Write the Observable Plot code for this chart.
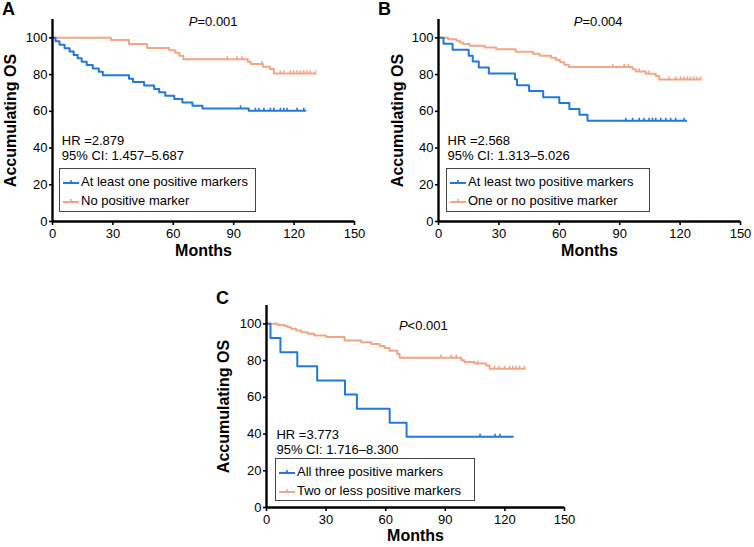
<!DOCTYPE html>
<html>
<head>
<meta charset="utf-8">
<script src="https://cdn.jsdelivr.net/npm/d3@7"></script>
<script src="https://cdn.jsdelivr.net/npm/@observablehq/plot@0.6"></script>
<style>
  html, body { margin: 0; padding: 0; background: #fff; }
  #root { position: relative; width: 754px; height: 547px; background: #fff; font-family: "Liberation Sans", Arial, sans-serif; color: #000; overflow: hidden; }
  .panel { position: absolute; }
  .letter { position: absolute; font-weight: bold; font-size: 18px; line-height: 18px; }
  .legend { position: absolute; border: 1px solid #444; box-sizing: border-box; background: #fff; }
  .legend .row { position: absolute; left: 0; height: 16px; font-size: 13px; line-height: 16px; white-space: nowrap; }
  .legend svg { position: absolute; left: 3px; top: 3px; }
  .legend span { position: absolute; left: 21px; top: 0; }
</style>
</head>
<body>
<div id="root"></div>
<script>
// ---------- data ----------
const xTicks = [0, 30, 60, 90, 120, 150];
const yTicks = [0, 20, 40, 60, 80, 100];
const blue = "#2179dd";
const orange = "#f3a685";

// Panel A
const aLabels = ["At least one positive markers", "No positive marker"];
const aStats = ["HR =2.879", "95% CI: 1.457–5.687"];
const aP = "=0.001";
const aBlueTime = [0, 1.5, 3.5, 6, 8.5, 10.5, 12.5, 14.5, 17, 20, 23, 25, 38, 40, 45.5, 50.5, 53, 56, 60.5, 64.5, 69.5, 74.5, 97.5];
const aBlueSurv = [100, 98.1, 96.3, 94.4, 92.6, 90.7, 88.9, 87, 85.2, 83.3, 81.5, 79.6, 77.8, 75.9, 74.1, 72.2, 70.4, 68.5, 66.7, 64.8, 63, 61.6, 60.3];
const aBlueEnd = 125.6;
const aBlueCensor = [93.4, 100.8, 102.5, 105, 108.2, 109.9, 113.2, 114.9, 116.5, 121.5, 124.8];
const aOrangeTime = [0, 29, 38, 47, 58, 61, 63, 65, 97, 98.5, 104.5, 108, 110];
const aOrangeSurv = [100, 98.9, 96.6, 94.5, 93.2, 91.9, 90.3, 88.3, 87, 85.7, 84.3, 83, 80.6];
const aOrangeEnd = 130.6;
const aOrangeCensor = [86.8, 91.7, 94.2, 104.1, 113.2, 114.9, 118.2, 119.8, 121.5, 123.1, 124.8, 126.4, 128.1, 130.6];

// Panel B
const bLabels = ["At least two positive markers", "One or no positive marker"];
const bStats = ["HR =2.568", "95% CI: 1.313–5.026"];
const bP = "=0.004";
const bBlueTime = [0, 2.5, 7, 15, 17, 20, 25, 38, 39, 45, 52, 60, 65, 70, 74];
const bBlueSurv = [100, 96.8, 93.5, 90.3, 87.1, 83.9, 80.6, 77.4, 74.2, 71, 67.7, 64.5, 61.3, 58.1, 54.8];
const bBlueEnd = 123;
const bBlueCensor = [93, 96.4, 99.7, 102.1, 104.6, 106.3, 107.9, 110.4, 112.9, 115.3, 117.8, 122];
const bOrangeTime = [0, 4.8, 8.9, 10.6, 12.2, 15.5, 22.9, 28.7, 38.3, 46.9, 50.2, 55.9, 58.4, 60.4, 62.5, 64.7, 96.4, 98, 103, 107.9, 109.6];
const bOrangeSurv = [100, 99.2, 98.4, 97.5, 96.6, 95.7, 94.7, 93.8, 92.5, 91.3, 90.3, 89.2, 87.9, 86.7, 85.4, 84.1, 82.9, 81.7, 80.5, 79.3, 77.3];
const bOrangeEnd = 130.2;
const bOrangeCensor = [86.5, 92.2, 94.4, 99.7, 104.6, 114.5, 117.8, 120.3, 121.9, 123.6, 125.2, 126.9, 128.5, 130.2];

// Panel C
const cLabels = ["All three positive markers", "Two or less positive markers"];
const cStats = ["HR =3.773", "95% CI: 1.716–8.300"];
const cP = "<0.001";
const cBlueTime = [0, 2, 7, 15.5, 25.5, 39.5, 45.5, 62, 70.5];
const cBlueSurv = [100, 92.3, 84.6, 76.9, 69.2, 61.5, 53.8, 46.2, 38.5];
const cBlueEnd = 124;
const cBlueCensor = [107.5, 115, 117.5];
const cOrangeTime = [0, 5.7, 9, 10.7, 12.4, 14.9, 17.5, 20.8, 24.2, 30, 39.3, 47.7, 52.7, 56.9, 59.4, 61.9, 65.8, 67, 98, 99.6, 104.7, 110.6, 112.3];
const cOrangeSurv = [100, 99.4, 98.9, 98.1, 97.3, 96.4, 95.5, 94.6, 93.7, 92.8, 91.0, 90.0, 89.1, 87.9, 86.9, 85.4, 83.6, 81.6, 80.2, 79.2, 78.4, 77.3, 75.5];
const cOrangeEnd = 130;
const cOrangeCensor = [87.9, 93, 95.5, 106.4, 114.8, 117, 119.8, 122.4, 124, 125.7, 127.4, 129.9];

// ---------- helpers ----------
function stepPoints(times, surv, end) {
  const pts = times.map((t, i) => ({t, s: surv[i]}));
  pts.push({t: end, s: surv[surv.length - 1]});
  return pts;
}
function censorPoints(times, surv, cens) {
  return cens.map(c => {
    let s = surv[0];
    for (let i = 0; i < times.length; i++) if (times[i] <= c) s = surv[i];
    return {t: c, s};
  });
}

function panel(o) {
  const series = [
    {time: o.blueTime, surv: o.blueSurv, end: o.blueEnd, cens: o.blueCensor, color: blue},
    {time: o.orangeTime, surv: o.orangeSurv, end: o.orangeEnd, cens: o.orangeCensor, color: orange}
  ];
  const marks = [];
  for (const s of series.slice().reverse()) {
    marks.push(Plot.line(stepPoints(s.time, s.surv, s.end), {x: "t", y: "s", curve: "step-after", stroke: s.color, strokeWidth: 2}));
    marks.push(Plot.link(censorPoints(s.time, s.surv, s.cens), {x1: "t", x2: "t", y1: "s", y2: d => d.s + 1.7, stroke: s.color, strokeWidth: 1.6}));
  }
  marks.push(
    Plot.axisX({ticks: xTicks, tickSize: 4, tickPadding: 3, fontSize: 13, label: null, strokeWidth: 1.6}),
    Plot.axisY({ticks: yTicks, tickSize: 3, tickPadding: 2, fontSize: 13, label: null, strokeWidth: 1.6}),
    Plot.ruleX([0], {stroke: "#000", strokeWidth: 2.4}),
    Plot.ruleY([0], {stroke: "#000", strokeWidth: 2.4}),
    Plot.text(["Accumulating OS"], {frameAnchor: "left", textAnchor: "middle", rotate: -90, dx: o.yLabelDx, fontWeight: "bold", fontSize: 16, fill: "#000"}),
    Plot.text(["Months"], {frameAnchor: "bottom", textAnchor: "middle", dy: o.xLabelDy, fontWeight: "bold", fontSize: 16, fill: "#000"}),
    Plot.text(["P"], {x: () => o.pX, y: () => o.pY, textAnchor: "end", fontStyle: "italic", fontSize: 13, fill: "#000"}),
    Plot.text([o.p], {x: () => o.pX, y: () => o.pY, textAnchor: "start", fontSize: 13, fill: "#000"}),
    Plot.text(o.stats, {x: () => o.statsX, y: (d, i) => o.statsY[i], text: d => d, textAnchor: "start", fontSize: 13, fill: "#000"})
  );
  return Plot.plot({
    width: o.width, height: o.height,
    marginLeft: o.mL, marginRight: o.mR, marginTop: o.mT, marginBottom: o.mB,
    x: {domain: [0, 150]},
    y: {domain: [0, 110]},
    style: {fontFamily: '"Liberation Sans", Arial, sans-serif', fontSize: "13px", color: "#000", background: "transparent", overflow: "visible"},
    marks
  });
}

function legend(root, labels, left, top, w, h) {
  const box = document.createElement("div");
  box.className = "legend";
  Object.assign(box.style, {left: left + "px", top: top + "px", width: w + "px", height: h + "px"});
  const colors = [blue, orange];
  labels.forEach((lab, i) => {
    const row = document.createElement("div");
    row.className = "row";
    row.style.top = (i === 0 ? 5 : 24) + "px";
    row.innerHTML = `<svg width="16" height="10"><line x1="0" x2="16" y1="6" y2="6" stroke="${colors[i]}" stroke-width="2"/><line x1="8" x2="8" y1="6" y2="3" stroke="${colors[i]}" stroke-width="1.6"/></svg><span>${lab}</span>`;
    box.appendChild(row);
  });
  root.appendChild(box);
}

function place(root, el, left, top) {
  const d = document.createElement("div");
  d.className = "panel";
  d.style.left = left + "px";
  d.style.top = top + "px";
  d.appendChild(el);
  root.appendChild(d);
}
function letter(root, txt, left, top) {
  const d = document.createElement("div");
  d.className = "letter";
  d.textContent = txt;
  d.style.left = left + "px";
  d.style.top = top + "px";
  root.appendChild(d);
}

const root = document.getElementById("root");

place(root, panel({
  width: 377, height: 270, mL: 52, mR: 23, mT: 19, mB: 49,
  blueTime: aBlueTime, blueSurv: aBlueSurv, blueEnd: aBlueEnd, blueCensor: aBlueCensor,
  orangeTime: aOrangeTime, orangeSurv: aOrangeSurv, orangeEnd: aOrangeEnd, orangeCensor: aOrangeCensor,
  yLabelDx: -42, xLabelDy: 34, p: aP, pX: 72, pY: 108.7, stats: aStats, statsX: 4.6, statsY: [44, 35.7]
}), 0, 0);

place(root, panel({
  width: 377, height: 270, mL: 61, mR: 14, mT: 19, mB: 49,
  blueTime: bBlueTime, blueSurv: bBlueSurv, blueEnd: bBlueEnd, blueCensor: bBlueCensor,
  orangeTime: bOrangeTime, orangeSurv: bOrangeSurv, orangeEnd: bOrangeEnd, orangeCensor: bOrangeCensor,
  yLabelDx: -41, xLabelDy: 34, p: bP, pX: 71.5, pY: 108.7, stats: bStats, statsX: 4.5, statsY: [44, 35.5]
}), 377, 0);

place(root, panel({
  width: 400, height: 277, mL: 86, mR: 16, mT: 35, mB: 40,
  blueTime: cBlueTime, blueSurv: cBlueSurv, blueEnd: cBlueEnd, blueCensor: cBlueCensor,
  orangeTime: cOrangeTime, orangeSurv: cOrangeSurv, orangeEnd: cOrangeEnd, orangeCensor: cOrangeCensor,
  yLabelDx: -43, xLabelDy: 33, p: cP, pX: 71, pY: 99.1, stats: cStats, statsX: 5, statsY: [39.8, 31.6]
}), 180, 270);

legend(root, aLabels, 59, 168, 197, 44);
legend(root, bLabels, 446, 168, 204, 44);
legend(root, cLabels, 275, 458, 200, 43);

letter(root, "A", 2, 0);
letter(root, "B", 378, 0);
letter(root, "C", 216, 289);
</script>
</body>
</html>
